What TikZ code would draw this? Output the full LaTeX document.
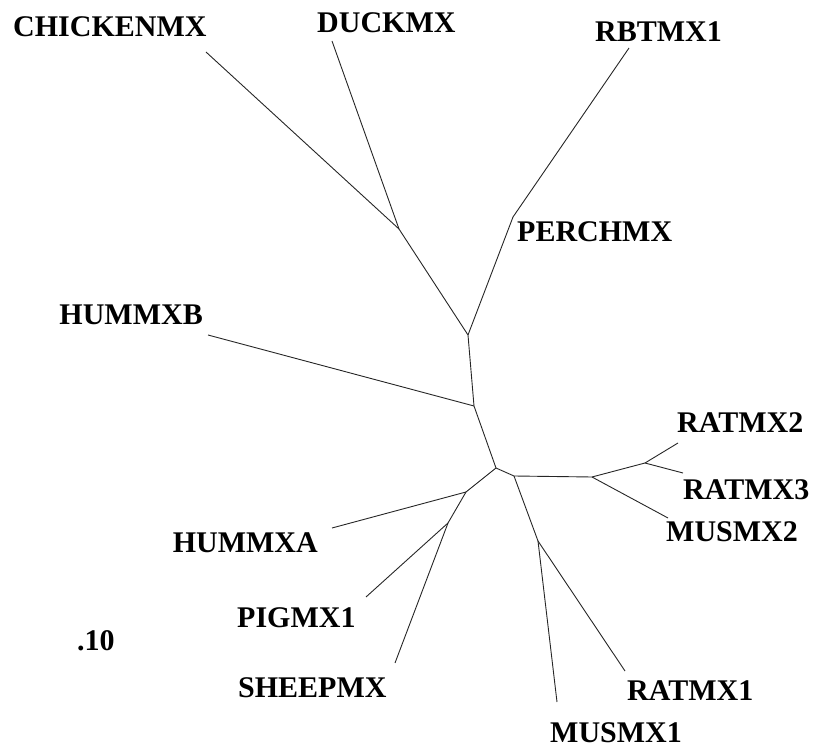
\documentclass[tikz,border=0pt]{standalone}
\usepackage{fontspec}
\setmainfont{Liberation Serif}
\begin{document}
\begin{tikzpicture}[x=1pt,y=-1pt,
  branch/.style={draw=black!85,line width=0.9pt},
  taxon/.style={inner sep=0pt,font=\fontsize{30}{30}\selectfont\bfseries}]
\useasboundingbox (0,0) rectangle (823,751);
% internal vertices
\coordinate (n1) at (399,229);
\coordinate (n2) at (468,335);
\coordinate (pj) at (513,217);
\coordinate (n3) at (474,406);
\coordinate (n4) at (496,468);
\coordinate (n5) at (514,476);
\coordinate (n6) at (592,477);
\coordinate (n7) at (645,463);
\coordinate (n8) at (538,541);
\coordinate (n9) at (466,492);
\coordinate (n10) at (448,523);
% leaf ends
\coordinate (chick) at (206,52);
\coordinate (duck) at (332,41);
\coordinate (rbt) at (629,48);
\coordinate (hmxb) at (208,335);
\coordinate (rat2) at (678,443);
\coordinate (rat3) at (683,473);
\coordinate (mus2) at (668,518);
\coordinate (mus1) at (557,702);
\coordinate (rat1) at (625,671);
\coordinate (hmxa) at (332,528);
\coordinate (pig) at (366,597);
\coordinate (sheep) at (395,663);
% branches
\draw[branch] (chick) -- (n1);
\draw[branch] (duck) -- (n1);
\draw[branch] (n1) -- (n2);
\draw[branch] (rbt) -- (pj);
\draw[branch] (pj) -- (n2);
\draw[branch] (n2) -- (n3);
\draw[branch] (hmxb) -- (n3);
\draw[branch] (n3) -- (n4);
\draw[branch] (n4) -- (n5);
\draw[branch] (n5) -- (n6);
\draw[branch] (n6) -- (n7);
\draw[branch] (n7) -- (rat2);
\draw[branch] (n7) -- (rat3);
\draw[branch] (n6) -- (mus2);
\draw[branch] (n5) -- (n8);
\draw[branch] (n8) -- (mus1);
\draw[branch] (n8) -- (rat1);
\draw[branch] (n4) -- (n9);
\draw[branch] (n9) -- (hmxa);
\draw[branch] (n9) -- (n10);
\draw[branch] (n10) -- (pig);
\draw[branch] (n10) -- (sheep);
% labels
\node[taxon,anchor=base west] (lchick) at (13,37) {CHICKENMX};
\node[taxon,anchor=base west] (lduck) at (317,33) {DUCKMX};
\node[taxon,anchor=base west] (lrbt) at (595,42) {RBTMX1};
\node[taxon,anchor=base west] (lperch) at (517,242) {PERCHMX};
\node[taxon,anchor=base east] (lhmxb) at (203,325) {HUMMXB};
\node[taxon,anchor=base west] (lrat2) at (677,433) {RATMX2};
\node[taxon,anchor=base west] (lrat3) at (683,500) {RATMX3};
\node[taxon,anchor=base west] (lmus2) at (666,541) {MUSMX2};
\node[taxon,anchor=base east] (lhmxa) at (318,552) {HUMMXA};
\node[taxon,anchor=base west] (lpig) at (237,627) {PIGMX1};
\node[taxon,anchor=base west] (lscale) at (77,650) {.10};
\node[taxon,anchor=base west] (lsheep) at (238,697) {SHEEPMX};
\node[taxon,anchor=base west] (lrat1) at (627,700) {RATMX1};
\node[taxon,anchor=base west] (lmus1) at (550,742) {MUSMX1};
\end{tikzpicture}
\end{document}
